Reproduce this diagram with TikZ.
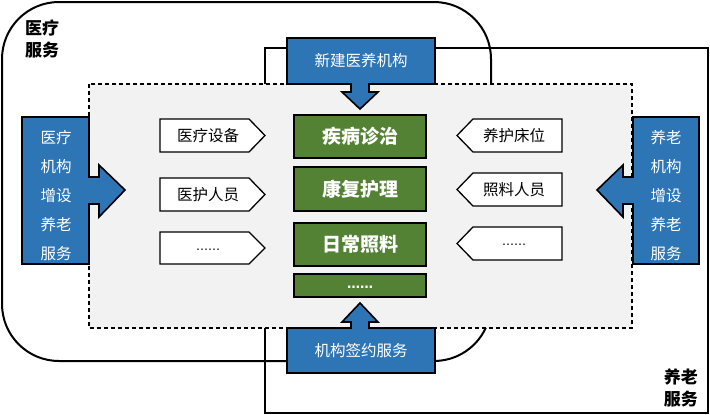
\documentclass[tikz,border=0pt]{standalone}
\usepackage{fontspec}
\setmainfont{Noto Sans CJK SC}
\newfontfamily\dotfont{DejaVu Sans}
\definecolor{blu}{HTML}{2E75B6}
\definecolor{grn}{HTML}{548235}
\definecolor{gry}{HTML}{F2F2F2}
\tikzset{
  frame/.style={draw=black,line width=2pt},
  region/.style={fill=gry,draw=black,line width=1.5pt,dash pattern=on 4pt off 3pt},
  bluebox/.style={fill=blu,draw=black,line width=1.6pt,line join=miter},
  bluetxt/.style={text=white,font=\fontsize{15.5}{29}\selectfont,align=center,inner sep=0pt},
  greenbox/.style={fill=grn,draw=black,line width=2pt,minimum width=132pt,inner sep=0pt,
     text=white,font=\fontsize{19}{22}\selectfont\bfseries},
  tag/.style={fill=white,draw=black,line width=1.3pt,line join=miter},
  tagtxt/.style={font=\fontsize{15.5}{18}\selectfont,inner sep=0pt},
  corner/.style={font=\fontsize{17}{22}\selectfont\bfseries,align=left,inner sep=0pt},
}
\begin{document}
\begin{tikzpicture}[x=1pt,y=-1pt]
\useasboundingbox (0,0) rectangle (710,415);
% outer frames
\draw[frame,rounded corners=57pt] (2,2) rectangle (491,361);
\draw[frame] (265,48) rectangle (708,413);
% dashed region
\path[region] (89,84) rectangle (632,328);
% corner labels
\node[corner,anchor=north west] (med) at (25,20) {医疗\\服务};
\node[corner,anchor=south east,align=right] (old) at (698,407) {养老\\服务};
% top blue
\path[bluebox] (287,38) -- (435,38) -- (435,84) -- (369,84) -- (369,92) -- (378,92) -- (360,109)
  -- (342,92) -- (351,92) -- (351,84) -- (287,84) -- cycle;
\node[bluetxt] (tnew) at (361,61) {新建医养机构};
% bottom blue
\path[bluebox] (287,328) -- (351,328) -- (351,322) -- (342,322) -- (360,303) -- (378,322)
  -- (369,322) -- (369,328) -- (435,328) -- (435,373) -- (287,373) -- cycle;
\node[bluetxt] (tsign) at (361,351) {机构签约服务};
% left blue
\path[bluebox] (22,117) -- (89,117) -- (89,177) -- (99,177) -- (99,165) -- (125,190)
  -- (99,217) -- (99,204) -- (89,204) -- (89,264) -- (22,264) -- cycle;
\node[bluetxt] (tleft) at (56,196) {医疗\\机构\\增设\\养老\\服务};
% right blue
\path[bluebox] (699,117) -- (633,117) -- (633,177) -- (623,177) -- (623,165) -- (597,190)
  -- (623,217) -- (623,204) -- (633,204) -- (633,264) -- (699,264) -- cycle;
\node[bluetxt] (tright) at (666,196) {养老\\机构\\增设\\养老\\服务};
% green boxes
\node[greenbox,minimum height=43pt] (g1) at (360,136) {疾病诊治};
\node[greenbox,minimum height=44pt] (g2) at (360,189) {康复护理};
\node[greenbox,minimum height=43pt] (g3) at (360,244) {日常照料};
\node[greenbox,minimum height=23pt] (g4) at (360,285.5) {\raisebox{-5pt}{\dotfont\fontsize{13}{15}\selectfont\bfseries ……}};
% left tags
\path[tag] (160,119) -- (249,119) -- (265,135.5) -- (249,152) -- (160,152) -- cycle;
\node[tagtxt] (l1) at (208,136) {医疗设备};
\path[tag] (160,178) -- (249,178) -- (265,194.5) -- (249,211) -- (160,211) -- cycle;
\node[tagtxt] (l2) at (208,195) {医护人员};
\path[tag] (160,232) -- (249,232) -- (265,248) -- (249,264) -- (160,264) -- cycle;
\node[tagtxt] (l3) at (208,250) {\dotfont\fontsize{12}{14}\selectfont ……};
% right tags
\path[tag] (562,119) -- (473,119) -- (457,135.5) -- (473,152) -- (562,152) -- cycle;
\node[tagtxt] (r1) at (514,136) {养护床位};
\path[tag] (562,173) -- (473,173) -- (457,189.5) -- (473,206) -- (562,206) -- cycle;
\node[tagtxt] (r2) at (514,190) {照料人员};
\path[tag] (562,227) -- (473,227) -- (457,243.5) -- (473,260) -- (562,260) -- cycle;
\node[tagtxt] (r3) at (514,245) {\dotfont\fontsize{12}{14}\selectfont ……};
\end{tikzpicture}
\end{document}
